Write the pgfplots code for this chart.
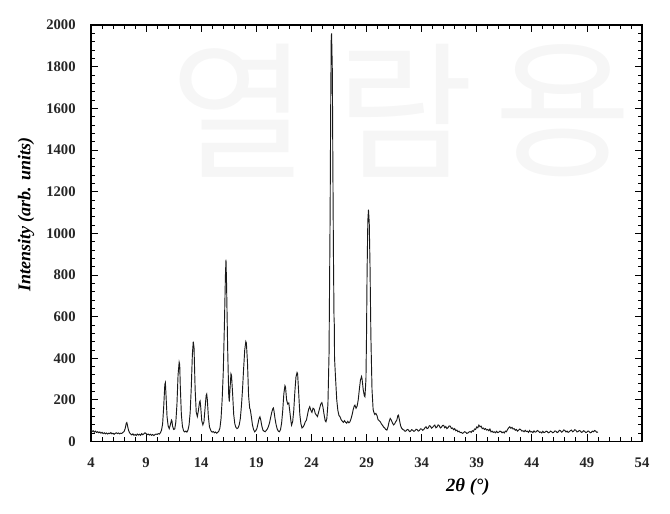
\documentclass[border=0pt]{standalone}
\usepackage{fontspec}
\setmainfont{Liberation Serif}
\newfontfamily\krfont{Noto Sans CJK KR}
\usepackage{pgfplots}
\pgfplotsset{compat=1.18}

\begin{document}
\begin{tikzpicture}
\begin{axis}[
  at={(0,0)}, anchor=south west,
  width=413.25pt, height=312.4pt, scale only axis,
  xmin=4, xmax=54, ymin=0, ymax=2000,
  xtick={4,9,...,54}, ytick={0,200,...,2000},
  minor x tick num=4, minor y tick num=4,
  tick align=inside,
  major tick length=5.5pt, minor tick length=3.2pt,
  axis line style={line width=0.8pt},
  every tick/.style={black, line width=0.6pt},
  tick label style={font=\fontsize{11}{13}\selectfont\bfseries, text=black!85},
  /pgf/number format/assume math mode=true,
  /pgf/number format/set thousands separator={},
  scaled y ticks=false,
  yticklabel style={xshift=-8pt},
  xticklabel style={yshift=-9pt},
  xlabel={\textit{2θ (°)}},
  ylabel={\textit{Intensity (arb. units)}},
  xlabel style={at={(axis description cs:0.684,-0.109)}, anchor=center,
    font=\fontsize{14}{16}\selectfont\bfseries},
  ylabel style={at={(axis description cs:-0.118,0.544)}, anchor=center, rotate=0,
    font=\fontsize{13.5}{16}\selectfont\bfseries},
  clip=false,
]
% watermark
\node[text=black!3.5, font=\krfont\fontsize{112}{112}\selectfont] at (rel axis cs:0.269,0.794) {열};
\node[text=black!3.5, font=\krfont\fontsize{112}{112}\selectfont] at (rel axis cs:0.570,0.794) {람};
\node[text=black!3.5, font=\krfont\fontsize{112}{112}\selectfont] at (rel axis cs:0.857,0.794) {용};

\addplot[black!90, line width=0.7pt, mark=none] table {
x y
4.0 55
4.1 48
4.2 52
4.3 45
4.4 50
4.5 44
4.6 47
4.7 42
4.8 46
4.9 40
5.0 44
5.1 38
5.2 42
5.3 37
5.4 41
5.5 36
5.6 40
5.7 38
5.8 43
5.9 37
6.0 40
6.1 35
6.2 39
6.3 42
6.4 38
6.5 41
6.6 37
6.7 40
6.8 39
6.9 44
7.0 48
7.1 62
7.2 88
7.25 91
7.3 80
7.4 55
7.5 42
7.6 36
7.7 32
7.8 37
7.9 30
8.0 34
8.1 29
8.2 36
8.3 31
8.4 35
8.5 30
8.6 38
8.7 33
8.8 37
8.9 42
9.0 38
9.1 33
9.2 36
9.3 31
9.4 35
9.5 30
9.6 34
9.7 29
9.8 33
9.9 36
10.0 34
10.1 38
10.2 36
10.3 42
10.4 55
10.5 85
10.6 170
10.7 275
10.75 283
10.8 230
10.9 120
11.0 75
11.1 62
11.2 80
11.3 103
11.35 98
11.4 75
11.5 58
11.6 60
11.7 95
11.8 180
11.9 320
12.0 381
12.05 370
12.1 270
12.2 130
12.3 72
12.4 52
12.5 46
12.6 50
12.7 45
12.8 55
12.9 80
13.0 140
13.1 260
13.2 420
13.28 480
13.35 450
13.45 250
13.55 140
13.65 120
13.75 150
13.85 190
13.9 195
13.95 170
14.05 100
14.15 80
14.25 95
14.35 160
14.45 222
14.5 228
14.55 205
14.65 120
14.75 70
14.9 50
15.0 45
15.1 48
15.2 42
15.3 46
15.4 40
15.5 44
15.6 50
15.7 65
15.8 110
15.9 200
16.0 330
16.1 546
16.2 800
16.25 873
16.3 760
16.4 450
16.5 220
16.55 192
16.6 240
16.7 325
16.75 318
16.85 230
16.95 130
17.05 85
17.15 68
17.25 62
17.35 66
17.45 80
17.55 110
17.65 170
17.75 250
17.85 350
17.95 440
18.05 480
18.1 473
18.2 380
18.3 220
18.4 160
18.45 155
18.55 120
18.65 80
18.75 58
18.85 47
18.95 52
19.05 62
19.15 85
19.25 110
19.33 119
19.4 105
19.5 75
19.6 55
19.7 50
19.8 47
19.9 53
20.0 60
20.1 72
20.2 90
20.3 115
20.4 140
20.5 158
20.55 161
20.6 148
20.7 110
20.8 80
20.9 60
21.0 50
21.1 47
21.2 58
21.3 90
21.4 150
21.5 230
21.6 268
21.65 262
21.75 200
21.85 180
21.95 185
22.05 140
22.15 95
22.2 79
22.3 95
22.4 150
22.5 240
22.6 310
22.7 331
22.75 325
22.85 230
22.95 130
23.05 85
23.15 65
23.25 70
23.35 80
23.45 95
23.55 103
23.65 130
23.75 155
23.85 167
23.95 150
24.05 140
24.15 160
24.25 155
24.35 135
24.45 127
24.55 120
24.65 140
24.75 160
24.85 180
24.95 187
25.05 165
25.15 130
25.25 100
25.32 95
25.4 110
25.5 180
25.6 420
25.7 1100
25.75 1600
25.8 1940
25.83 1960
25.9 1780
25.95 1300
26.0 900
26.05 600
26.08 560
26.1 400
26.2 296
26.3 200
26.4 150
26.5 125
26.6 119
26.7 105
26.8 98
26.9 92
27.0 100
27.1 93
27.2 88
27.3 97
27.4 90
27.5 95
27.6 110
27.7 130
27.8 155
27.9 172
27.95 175
28.05 160
28.15 170
28.25 200
28.35 250
28.45 295
28.55 312
28.6 300
28.7 250
28.8 220
28.86 215
28.95 300
29.0 500
29.05 800
29.12 1060
29.18 1113
29.25 1050
29.32 840
29.4 500
29.5 250
29.6 155
29.65 143
29.75 130
29.85 135
29.95 125
30.05 105
30.15 100
30.25 95
30.35 85
30.45 78
30.55 70
30.65 65
30.75 58
30.85 55
30.95 70
31.05 95
31.15 111
31.25 103
31.35 90
31.45 80
31.55 85
31.65 95
31.75 103
31.85 125
31.9 127
32.0 100
32.1 75
32.2 63
32.3 58
32.4 55
32.5 49
32.6 52
32.7 58
32.8 56
32.9 48
33.0 50
33.1 57
33.2 54
33.3 49
33.4 52
33.5 59
33.6 57
33.7 50
33.8 53
33.9 61
34.0 60
34.1 54
34.2 58
34.3 66
34.4 71
34.5 62
34.6 65
34.7 76
34.8 74
34.9 64
35.0 68
35.1 75
35.2 79
35.3 66
35.4 70
35.5 80
35.6 76
35.7 65
35.8 69
35.9 77
36.0 78
36.1 66
36.2 72
36.3 62
36.4 67
36.5 75
36.6 74
36.7 63
36.8 65
36.9 57
37.0 62
37.1 52
37.2 55
37.3 47
37.4 50
37.5 43
37.6 44
37.7 39
37.8 42
37.9 47
38.0 45
38.1 39
38.2 41
38.3 46
38.4 48
38.5 44
38.6 52
38.7 49
38.8 60
38.9 58
39.0 70
39.1 66
39.2 79
39.3 71
39.4 74
39.5 62
39.6 65
39.7 58
39.8 62
39.9 55
40.0 58
40.1 52
40.2 60
40.3 46
40.4 50
40.5 44
40.6 47
40.7 42
40.8 49
40.9 43
41.0 45
41.1 50
41.2 48
41.3 42
41.4 46
41.5 41
41.6 50
41.7 47
41.8 58
41.9 66
42.0 71
42.1 64
42.2 68
42.3 60
42.4 62
42.5 54
42.6 58
42.7 50
42.8 55
42.9 60
43.0 57
43.1 50
43.2 52
43.3 47
43.4 54
43.5 48
43.6 50
43.7 44
43.8 53
43.9 46
44.0 48
44.1 43
44.2 51
44.3 45
44.4 47
44.5 53
44.6 50
44.7 44
44.8 46
44.9 41
45.0 49
45.1 43
45.2 45
45.3 50
45.4 48
45.5 42
45.6 44
45.7 50
45.8 47
45.9 42
46.0 45
46.1 51
46.2 49
46.3 43
46.4 46
46.5 54
46.6 52
46.7 45
46.8 48
46.9 56
47.0 53
47.1 46
47.2 50
47.3 44
47.4 47
47.5 52
47.6 55
47.7 47
47.8 50
47.9 57
48.0 54
48.1 46
48.2 48
48.3 53
48.4 51
48.5 44
48.6 46
48.7 52
48.8 49
48.9 43
49.0 45
49.1 51
49.2 48
49.3 42
49.4 44
49.5 50
49.6 47
49.7 53
49.8 50
49.9 44
50.0 46
};
\end{axis}
\pgfresetboundingbox
\path[use as bounding box] (-68.25pt,-53.625pt) rectangle (434.25pt,331.15pt);
\end{tikzpicture}
\end{document}
